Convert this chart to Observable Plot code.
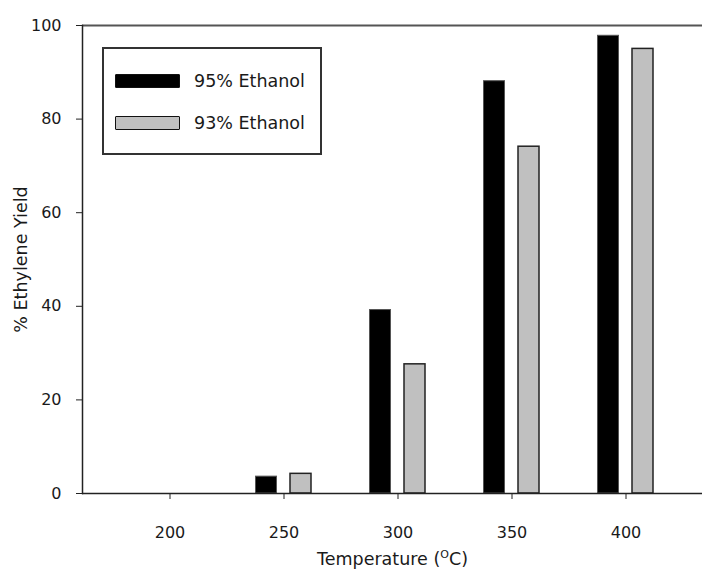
<!DOCTYPE html>
<html>
<head>
<meta charset="utf-8">
<script src="https://cdn.jsdelivr.net/npm/d3@7"></script>
<script src="https://cdn.jsdelivr.net/npm/@observablehq/plot@0.6"></script>
<style>
html, body { margin: 0; padding: 0; background: #fff; }
#chart { position: relative; width: 702px; height: 570px; font-family: "DejaVu Sans", sans-serif; color: #1a1a1a; }
#legend { position: absolute; left: 102px; top: 47px; width: 216px; height: 104px; border: 2px solid #333; }
.item { position: absolute; left: 11px; height: 16px; display: flex; align-items: center; }
.swatch { width: 63px; height: 12px; border: 1.5px solid #111; border-radius: 1px; }
.label { margin-left: 14px; font-size: 17.5px; white-space: nowrap; }
</style>
</head>
<body>
<div id="chart"></div>
<script>
// ---- data ----
const temps = ["200", "250", "300", "350", "400"];
const series = ["95% Ethanol", "93% Ethanol"];
const yield95 = [0, 3.6, 39.2, 88.1, 97.8];
const yield93 = [0, 4.2, 27.6, 74.1, 95.0];
const colors = ["#000000", "#c0c0c0"];
const yTicks = [0, 20, 40, 60, 80, 100];
const xTitle = "Temperature (°C)";
const yTitle = "% Ethylene Yield";

const rows95 = temps.map((t, i) => ({ temp: t, series: series[0], value: yield95[i] }));
const rows93 = temps.map((t, i) => ({ temp: t, series: series[1], value: yield93[i] }));

const plot = Plot.plot({
  width: 702,
  height: 570,
  marginLeft: 82,
  marginRight: 0,
  marginTop: 25,
  marginBottom: 77,
  style: { fontFamily: "DejaVu Sans, sans-serif", fontSize: "16px", color: "#1a1a1a", background: "#fff" },
  x: { domain: temps, range: [110.65, 684.05], paddingInner: 0.817, paddingOuter: 0.4085, label: null },
  y: { domain: [0, 100], label: null },
  marks: [
    Plot.barY(rows95, { x: "temp", y: "value", fill: colors[0], stroke: "#555", strokeWidth: 1, dx: -17.5 }),
    Plot.barY(rows93, { x: "temp", y: "value", fill: colors[1], stroke: "#222", strokeWidth: 1.5, dx: 17 }),
    Plot.ruleY([100], { stroke: "#555", strokeWidth: 2 }),
    Plot.ruleY([0], { stroke: "#222", strokeWidth: 1.5 }),
    Plot.frame({ anchor: "left", stroke: "#222", strokeWidth: 1.5 }),
    Plot.axisX({ tickSize: 6, tickPadding: 27, stroke: "#222", label: xTitle, labelAnchor: "center", labelOffset: 71 }),
    Plot.axisY({ ticks: yTicks, tickSize: 6, tickPadding: 15, stroke: "#222", label: yTitle, labelAnchor: "center", labelOffset: 68 })
  ]
});

document.getElementById("chart").appendChild(plot);

// axis label styling (no arrow; superscript O in °C)
const svg = d3.select(plot);
svg.selectAll('g[aria-label="x-axis label"] text, g[aria-label="y-axis label"] text')
  .style("font-size", "17.5px");
const yl = svg.select('g[aria-label="y-axis label"] text');
if (!yl.empty()) yl.text(yTitle);
const xl = svg.select('g[aria-label="x-axis label"] text');
if (!xl.empty()) {
  xl.text(null);
  xl.append("tspan").text("Temperature (");
  xl.append("tspan").attr("dy", -7).style("font-size", "11px").text("O");
  xl.append("tspan").attr("dy", 7).text("C)");
}

// legend
const legend = d3.select("#chart").append("div").attr("id", "legend");
series.forEach((s, i) => {
  const item = legend.append("div").attr("class", "item").style("top", (24 + i * 42) + "px");
  item.append("div").attr("class", "swatch").style("background", colors[i]);
  item.append("div").attr("class", "label").text(s);
});
</script>
</body>
</html>
